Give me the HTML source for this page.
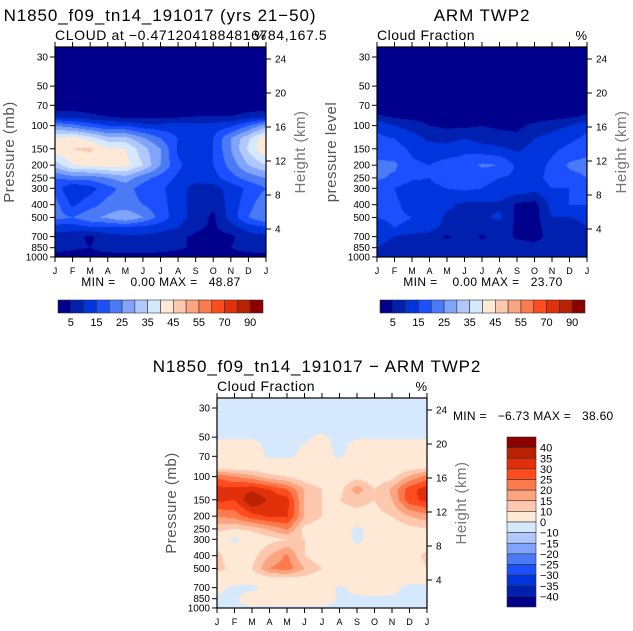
<!DOCTYPE html>
<html><head><meta charset="utf-8">
<style>
html,body{margin:0;padding:0;background:#fff;}
#root{position:relative;width:633px;height:631px;overflow:hidden;font-family:"Liberation Sans",sans-serif;}
canvas{position:absolute;}
svg{position:absolute;left:0;top:0;}
text{white-space:pre;}
</style></head>
<body>
<div id="root">
<canvas id="c1" width="211" height="210" style="left:55px;top:47px"></canvas>
<canvas id="c2" width="210" height="210" style="left:377px;top:47px"></canvas>
<canvas id="c3" width="210" height="210" style="left:217px;top:398px"></canvas>
<svg id="svg" width="633" height="631"></svg>
</div>
<script>
const months = ["J","F","M","A","M","J","J","A","S","O","N","D","J"];
const levels = [30,50,70,85,100,125,150,200,250,300,400,500,600,700,850,1000];
const pTicks = [30,50,70,100,150,200,250,300,400,500,700,850,1000];
const kmTicks = [24,20,16,12,8,4];
const absLevels = [5,10,15,20,25,30,35,40,45,50,55,60,70,80,90];
const absLabels = ["5","15","25","35","45","55","70","90"];
const diffLevels = [-40,-35,-30,-25,-20,-15,-10,0,10,15,20,25,30,35,40];
const diffLabels = ["40","35","30","25","20","15","10","0","\u221210","\u221215","\u221220","\u221225","\u221230","\u221235","\u221240"];
const palette = ["#00008c","#0020b0","#0034dc","#1c50ff","#4a7af6","#80a4fa","#b0c8fe","#d6e8fc","#fee8d6","#fdc8ae","#fca480","#fc7a4c","#ff4c1e","#e2300a","#b82200","#8c0000"];

const modelData = [
[0,0,0,0,0,0,0,0,0,0,0,0,0],
[0,0,0,0,0,0,0,0,0,0,0,0,0],
[2,2,2,1,1,1,1,1,1,1,1,2,2],
[8,8,6,5,3,3,3,4,5,5,5,7,8],
[25,22,18,15,15,12,12,12,12,12,14,20,28],
[40,42,38,32,32,26,20,15,15,15,25,34,44],
[44,45,46,41,40,32,25,14,12,15,25,36,45],
[32,40,41,42,42,35,25,16,12,15,22,30,35],
[20,22,22,25,28,22,18,14,12,13,18,22,25],
[18,10,13,18,22,18,16,12,8,8,12,16,20],
[22,14,18,22,22,20,17,12,8,6,12,18,24],
[22,20,24,26,30,25,18,12,8,4,12,20,25],
[12,12,14,14,14,13,12,10,6,4,8,12,14],
[8,7,4,8,9,9,8,6,4,3,4,8,9],
[8,6,5,8,9,9,8,6,4,3,5,8,9],
[2,2,2,2,2,2,2,2,2,2,2,2,2]];

const armData = [
[0,0,0,0,0,0,0,0,0,0,0,0,0],
[0,0,0,0,0,0,0,0,0,0,0,0,0],
[1,1,1,1,1,1,1,1,1,1,1,1,1],
[6,4,3,3,3,3,3,3,3,3,3,4,6],
[14,10,8,5,4,4,5,4,4,6,8,10,14],
[16,15,12,9,8,10,8,7,6,10,12,14,16],
[18,17,14,12,12,14,12,11,9,12,14,16,18],
[21,21,16,15,17,17,21,20,14,13,16,21,22],
[21,19,16,15,19,15,16,15,14,13,17,18,20],
[17,15,12,13,15,16,15,14,14,12,15,15,17],
[16,16,13,14,11,9,9,9,4,3,12,15,15],
[15,16,15,14,9,9,9,11,4,3,10,10,11],
[13,15,14,12,8,8,8,8,4,3,8,8,10],
[11,10,8,8,4,8,4,8,4,3,7,8,9],
[10,9,8,8,8,8,8,8,8,7,8,8,9],
[6,6,6,6,6,6,6,6,6,6,6,6,6]];

const diffData = [
[-3,-3,-3,-3,-3,-3,-3,-3,-3,-3,-3,-3,-3],
[-0.3,-0.3,-0.3,-1,-1,-0.5,0.5,-1,-0.3,-0.3,-0.3,-0.3,-0.3],
[3,3,3,-1,-1,1,2,-1,3,3,3,3,3],
[8,7,6,5,4,4,4,4,5,5,5,7,9],
[24,20,17,12,10,6,5,5,8,6,8,16,22],
[32,32,34,30,25,15,10,8,18,10,16,28,33],
[32,30,40,34,32,14,10,10,12,10,15,28,32],
[20,22,28,31,31,15,10,8,8,8,10,15,18],
[12,10,12,16,21,8,6,5,-2,4,6,8,10],
[5,-2,4,8,10,10,6,5,-2,4,5,5,5],
[12,5,8,15,21,10,6,5,4,4,5,6,12],
[12,8,10,20,23,15,10,5,4,4,5,5,10],
[6,5,5,8,8,8,5,4,3,3,2,3,4],
[2,-2,-2,4,4,4,4,-1,2,3,2,-2,-3],
[-1,-1,4,4,4,4,4,-1,-1,-1,-1,-1,-1],
[-1,-1,-1,-1,-1,-1,-1,-1,-1,-1,-1,-1,-1]];

const PX_DEC = 131.3, PTOP = 30*Math.pow(10,-10/131.3);
function yOfP(p){ return Math.log10(p/PTOP)*PX_DEC; }
function yOfKm(k){ return 59 + (24-k)*8.5 - 47; }

function hex(c){return [parseInt(c.substr(1,2),16),parseInt(c.substr(3,2),16),parseInt(c.substr(5,2),16)];}
const pal = palette.map(hex);

function drawField(id, data, lev){
  const cv=document.getElementById(id), ctx=cv.getContext('2d');
  const W=cv.width,H=cv.height, img=ctx.createImageData(W,H);
  const ly=levels.map(yOfP);
  for(let y=0;y<H;y++){
    const yy=y+0.5;
    let i=0; while(i<levels.length-2 && ly[i+1]<yy) i++;
    let t=(yy-ly[i])/(ly[i+1]-ly[i]); t=Math.max(0,Math.min(1,t));
    for(let x=0;x<W;x++){
      const fx=(x+0.5)/W*(months.length-1);
      let j=Math.min(months.length-2,Math.floor(fx)); const s=fx-j;
      const v=(data[i][j]*(1-s)+data[i][j+1]*s)*(1-t)+(data[i+1][j]*(1-s)+data[i+1][j+1]*s)*t;
      let k=0; while(k<lev.length && v>=lev[k]) k++;
      const c=pal[k], o=(y*W+x)*4;
      img.data[o]=c[0];img.data[o+1]=c[1];img.data[o+2]=c[2];img.data[o+3]=255;
    }
  }
  ctx.putImageData(img,0,0);
}
drawField('c1',modelData,absLevels);
drawField('c2',armData,absLevels);
drawField('c3',diffData,diffLevels);

const svg=document.getElementById('svg'), NS="http://www.w3.org/2000/svg";
function el(tag,attrs,txt){const e=document.createElementNS(NS,tag);for(const k in attrs)e.setAttribute(k,attrs[k]);if(txt!==undefined)e.textContent=txt;svg.appendChild(e);return e;}
function txt(x,y,s,size,anchor,fill,name,rot,ls){
  const e=el('text',{x:x,y:y,'font-size':size,'text-anchor':anchor||'start',fill:fill||'#000','font-family':'Liberation Sans, sans-serif'},s);
  if(ls) e.setAttribute('letter-spacing',ls);
  if(rot) e.setAttribute('transform','rotate(-90 '+x+' '+y+')');
  
  
  return e;
}
function axes(x0,y0,W,H,pfx,ylab){
  const r=el('rect',{x:x0,y:y0,width:W,height:H,fill:'none',stroke:'#000','stroke-width':1.2});
  
  
  pTicks.forEach(p=>{const y=y0+yOfP(p);
    const l=el('line',{x1:x0-5,x2:x0,y1:y,y2:y,stroke:'#000'});
    
    
    txt(x0-7,y+3.5,String(p),10,'end','#000',pfx+'-pressure-tick-label');});
  kmTicks.forEach(k=>{const y=y0+yOfKm(k);
    const l=el('line',{x1:x0+W,x2:x0+W+5,y1:y,y2:y,stroke:'#000'});
    
    
    txt(x0+W+9,y+3.5,String(k),10,'start','#000',pfx+'-height-tick-label');});
  months.forEach((m,i)=>{const x=x0+i*W/(months.length-1);
    const a=el('line',{x1:x,x2:x,y1:y0+H,y2:y0+H+5,stroke:'#000'});
    
    
    const b=el('line',{x1:x,x2:x,y1:y0-5,y2:y0,stroke:'#000'});
    
    
    txt(x,y0+H+17,m,9,'middle','#000',pfx+'-month-label');});
  txt(x0-41,y0+H/2,ylab,15,'middle','#555',pfx+'-y-axis-title',true,0.5);
  txt(x0+W+39,y0+H/2,'Height (km)',15,'middle','#777',pfx+'-height-axis-title',true,0.5);
}
axes(55,47,211,210,'model','Pressure (mb)');
axes(377,47,210,210,'arm','pressure level');
axes(217,398,210,210,'diff','Pressure (mb)');

txt(160,21,'N1850_f09_tn14_191017 (yrs 21\u221250)',17,'middle','#000','model-title',false,0.9);
txt(55,40,'CLOUD at \u22120.4712041884816784,167.5',14,'start','#000','model-subtitle',false,0.6);
txt(266,40,'%',13,'end','#000','model-units');
txt(161,286,'MIN =    0.00 MAX =   48.87',12,'middle','#000','model-min-max',false,0.4);
txt(482,21,'ARM TWP2',17,'middle','#000','arm-title',false,0.9);
txt(377,40,'Cloud Fraction',14,'start','#000','arm-subtitle',false,0.5);
txt(587,40,'%',13,'end','#000','arm-units');
txt(483,286,'MIN =    0.00 MAX =   23.70',12,'middle','#000','arm-min-max',false,0.4);
txt(317,372,'N1850_f09_tn14_191017 \u2212 ARM TWP2',17,'middle','#000','diff-title',false,0.9);
txt(217,391,'Cloud Fraction',14,'start','#000','diff-subtitle',false,0.5);
txt(427,391,'%',13,'end','#000','diff-units');
txt(453,420,'MIN =   \u22126.73 MAX =   38.60',12,'start','#000','diff-min-max',false,0.3);

function hbar(x0,y0,W,H,pfx){
  const bw=W/palette.length;
  palette.forEach((c,i)=>{const r=el('rect',{x:x0+i*bw,y:y0,width:bw,height:H,fill:c,stroke:'#333','stroke-width':0.6});
    
    });
  absLabels.forEach((s,i)=>{txt(x0+(2*i+1)*bw,y0+H+13,s,11,'middle','#000',pfx+'-colorbar-label');});
}
hbar(58,300,205,13,'model');
hbar(380,300,205,13,'arm');
(function(){
  const x0=507,y0=437,W=29,H=170,bh=H/palette.length;
  for(let i=0;i<palette.length;i++){
    const r=el('rect',{x:x0,y:y0+i*bh,width:W,height:bh,fill:palette[palette.length-1-i],stroke:'#333','stroke-width':0.6});
    
    
  }
  diffLabels.forEach((s,i)=>{txt(x0+W+4,y0+(i+1)*bh+4,s,11,'start','#000','diff-colorbar-label');});
})();
</script>
</body></html>
